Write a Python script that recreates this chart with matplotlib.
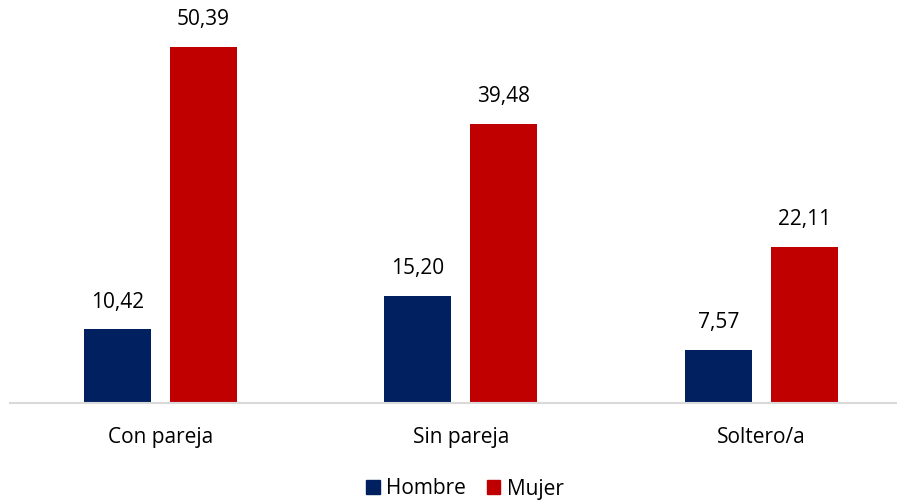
import matplotlib
matplotlib.use("Agg")
import matplotlib.pyplot as plt
import numpy as np
from matplotlib.patches import Patch

categories = ["Con pareja", "Sin pareja", "Soltero/a"]
series_names = ["Hombre", "Mujer"]
hombre = [10.42, 15.20, 7.57]
mujer = [50.39, 39.48, 22.11]
colors = ["#002060", "#C00000"]

plt.rcParams["font.family"] = ["Open Sans", "DejaVu Sans"]

W, H = 897, 501
fig = plt.figure(figsize=(W / 100, H / 100), dpi=100)
ax = fig.add_axes([10 / W, (H - 403) / H, (W - 10) / W, 403 / H])

x = np.arange(len(categories))
width = 0.223
offset = 0.143
for vals, off, col in [(hombre, -offset, colors[0]), (mujer, offset, colors[1])]:
    bars = ax.bar(x + off, vals, width=width, color=col, zorder=2)
    for b, v in zip(bars, vals):
        ax.annotate(f"{v:.2f}".replace(".", ","),
                    (b.get_x() + b.get_width() / 2, b.get_height()),
                    xytext=(0, 12), textcoords="offset points",
                    ha="center", va="bottom", fontsize=15, color="#000000")

ax.set_xlim(-0.5, 2.451)
ax.set_ylim(0, 57.04)
ax.set_yticks([])
ax.set_xticks(x)
ax.set_xticklabels(categories, fontsize=15, color="#000000")
ax.tick_params(axis="x", length=0, pad=17)
for s in ["top", "right", "left"]:
    ax.spines[s].set_visible(False)
ax.spines["bottom"].set_color("#d9d9d9")
ax.spines["bottom"].set_linewidth(1.5)

handles = [Patch(color=c, label=n) for c, n in zip(colors, series_names)]
fig.legend(handles=handles, loc="center", bbox_to_anchor=(465 / W, 1 - 489 / H),
           ncol=2, frameon=False, fontsize=15, handlelength=0.65, handleheight=0.65,
           handletextpad=0.3, columnspacing=1.0, borderpad=0)

fig.savefig("out.png", dpi=100)
